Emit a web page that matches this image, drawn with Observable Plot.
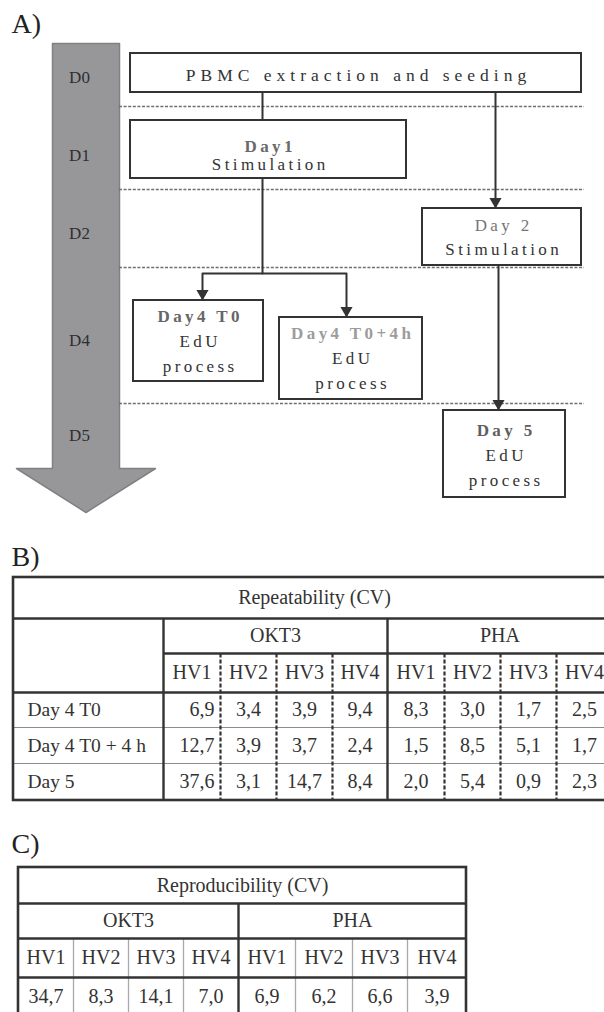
<!DOCTYPE html>
<html><head><meta charset="utf-8">
<script src="https://cdn.jsdelivr.net/npm/d3@7"></script>
<script src="https://cdn.jsdelivr.net/npm/@observablehq/plot@0.6"></script>
<style>
html,body{margin:0;padding:0;background:#fff;overflow:hidden;}
#chart svg{display:block;}
</style></head><body><div id="chart"></div>
<script>
// ---------------- DATA ----------------
const panelLabels = ["A)", "B)", "C)"];
const days = ["D0", "D1", "D2", "D4", "D5"];
const flowSteps = [
  ["PBMC extraction and seeding"],
  ["Day1", "Stimulation"],
  ["Day 2", "Stimulation"],
  ["Day4 T0", "EdU", "process"],
  ["Day4 T0+4h", "EdU", "process"],
  ["Day 5", "EdU", "process"]
];
const flowLinks = [[0, 1], [0, 2], [1, 3], [1, 4], [2, 5]];
const repeatTitle = "Repeatability (CV)";
const reproTitle = "Reproducibility (CV)";
const stimuli = ["OKT3", "PHA"];
const donors = ["HV1", "HV2", "HV3", "HV4"];
const repeatRows = ["Day 4 T0", "Day 4 T0 + 4 h", "Day 5"];
const repeatOKT3 = [[6.9, 3.4, 3.9, 9.4], [12.7, 3.9, 3.7, 2.4], [37.6, 3.1, 14.7, 8.4]];
const repeatPHA = [[8.3, 3.0, 1.7, 2.5], [1.5, 8.5, 5.1, 1.7], [2.0, 5.4, 0.9, 2.3]];
const reproOKT3 = [34.7, 8.3, 14.1, 7.0];
const reproPHA = [6.9, 6.2, 6.6, 3.9];

// ---------------- LAYOUT ----------------
const L = {
  panelX: 11, panelY: [24, 557, 844],
  bigArrow: {x1: 52, x2: 119, top: 43, neck: 468, w1: 16, w2: 155, tip: 512},
  dayX: 79, dayY: [77, 155, 233, 340, 435],
  dividerY: [106, 189, 267, 403], dividerX: [119, 584],
  boxes: [
    {x1: 130, x2: 581, y1: 53, y2: 92, lineY: [75]},
    {x1: 130, x2: 406, y1: 120, y2: 178, lineY: [146, 164]},
    {x1: 422, x2: 581, y1: 208, y2: 265, lineY: [225, 249]},
    {x1: 133, x2: 263, y1: 300, y2: 381, lineY: [316, 341, 366]},
    {x1: 279, x2: 422, y1: 317, y2: 399, lineY: [333, 358, 383]},
    {x1: 443, x2: 565, y1: 410, y2: 497, lineY: [430, 455, 480]}
  ],
  titleStyle: [null, "#6a6a6a", "#767676", "#666666", "#9c9c9c", "#5e5e5e"],
  titleBold: [false, true, false, true, true, true],
  connectors: [
    {pts: [[262, 92], [262, 120]], head: false},
    {pts: [[495, 92], [495, 208]], head: true},
    {pts: [[262, 178], [262, 273], [202, 273], [202, 300]], head: true},
    {pts: [[262, 273], [346, 273], [346, 317]], head: true},
    {pts: [[498, 265], [498, 410]], head: true}
  ],
  B: {cols: [13, 163, 220, 276, 332, 387, 444, 500, 556, 612], rows: [577, 618, 653, 692, 727, 763, 800], labelX: 27, titleX: 314},
  C: {cols: [18, 73, 128, 183, 238, 295, 352, 407, 466], rows: [867, 903, 938, 977, 1030], titleX: 242}
};

const FLOW_FONT = "Liberation Serif, serif";
const SERIF = "'Liberation Serif', 'Times New Roman', Times, serif";
const INK = "#333";
const fmt = v => v.toFixed(1).replace(".", ",");
const mid = (a, b) => (a + b) / 2;

// ---------------- PANEL A data ----------------
const ba = L.bigArrow;
const arrowPoly = [[ba.x1, ba.top], [ba.x2, ba.top], [ba.x2, ba.neck], [ba.w2, ba.neck], [mid(ba.x1, ba.x2), ba.tip], [ba.w1, ba.neck], [ba.x1, ba.neck], [ba.x1, ba.top]];
const dayLabels = days.map((d, i) => ({text: d, x: L.dayX, y: L.dayY[i]}));
const dividers = L.dividerY.map(y => ({y, x1: L.dividerX[0], x2: L.dividerX[1]}));
const boxes = flowSteps.map((s, i) => ({...L.boxes[i], step: i}));
const flowText = [];
flowSteps.forEach((lines, i) => {
  const b = L.boxes[i];
  lines.forEach((t, j) => flowText.push({
    text: t, x: mid(b.x1, b.x2), y: b.lineY[j],
    kind: i === 0 ? "pbmc" : (j === 0 ? (L.titleBold[i] ? "titleBold" : "titleNormal") : "body"),
    color: (i > 0 && j === 0) ? L.titleStyle[i] : INK
  }));
});
const connLines = [];
const heads = [];
flowLinks.forEach((lk, k) => {
  const c = L.connectors[k];
  c.pts.forEach(([x, y]) => connLines.push({x, y, k}));
  if (c.head) {
    const [x, y] = c.pts[c.pts.length - 1];
    heads.push({x, y: y - 7});
  }
});

// ---------------- PANEL B data ----------------
const B = L.B;
const bCellX = i => mid(B.cols[i], B.cols[i + 1]);
const bRowY = i => mid(B.rows[i], B.rows[i + 1]);
const bText = [];
bText.push({text: repeatTitle, x: B.titleX, y: bRowY(0)});
stimuli.forEach((s, g) => bText.push({text: s, x: mid(B.cols[1 + 4 * g], B.cols[5 + 4 * g]), y: bRowY(1)}));
stimuli.forEach((s, g) => donors.forEach((d, j) => bText.push({text: d, x: bCellX(1 + 4 * g + j), y: bRowY(2)})));
const bValuesCenter = [];
const bValuesRight = [];
repeatRows.forEach((r, i) => {
  [repeatOKT3, repeatPHA].forEach((m, g) => m[i].forEach((v, j) => {
    const col = 1 + 4 * g + j;
    if (g === 0 && j === 0) bValuesRight.push({text: fmt(v), x: B.cols[col + 1] - 6, y: bRowY(3 + i)});
    else bValuesCenter.push({text: fmt(v), x: bCellX(col), y: bRowY(3 + i)});
  }));
});
const bRowLabels = repeatRows.map((r, i) => ({text: r, x: B.labelX, y: bRowY(3 + i)}));
const bThick = [
  {x1: B.cols[0], x2: B.cols[9], y1: B.rows[1], y2: B.rows[1]},
  {x1: B.cols[1], x2: B.cols[9], y1: B.rows[2], y2: B.rows[2]},
  {x1: B.cols[0], x2: B.cols[9], y1: B.rows[3], y2: B.rows[3]},
  {x1: B.cols[1], x2: B.cols[1], y1: B.rows[1], y2: B.rows[6]},
  {x1: B.cols[5], x2: B.cols[5], y1: B.rows[1], y2: B.rows[6]}
];
const bThin = [4, 5].map(r => ({x1: B.cols[0], x2: B.cols[9], y1: B.rows[r], y2: B.rows[r]}));
const bDashed = [2, 3, 4, 6, 7, 8].map(c => ({x1: B.cols[c], x2: B.cols[c], y1: B.rows[2], y2: B.rows[6]}));

// ---------------- PANEL C data ----------------
const C = L.C;
const cCellX = i => mid(C.cols[i], C.cols[i + 1]);
const cRowY = i => mid(C.rows[i], C.rows[i + 1]);
const cText = [];
cText.push({text: reproTitle, x: C.titleX, y: cRowY(0)});
stimuli.forEach((s, g) => cText.push({text: s, x: mid(C.cols[4 * g], C.cols[4 + 4 * g]), y: cRowY(1)}));
stimuli.forEach((s, g) => donors.forEach((d, j) => cText.push({text: d, x: cCellX(4 * g + j), y: cRowY(2)})));
[reproOKT3, reproPHA].forEach((arr, g) => arr.forEach((v, j) => cText.push({text: fmt(v), x: cCellX(4 * g + j), y: 996})));
const cThick = [
  {x1: C.cols[0], x2: C.cols[8], y1: C.rows[1], y2: C.rows[1]},
  {x1: C.cols[0], x2: C.cols[8], y1: C.rows[2], y2: C.rows[2]},
  {x1: C.cols[0], x2: C.cols[8], y1: C.rows[3], y2: C.rows[3]},
  {x1: C.cols[4], x2: C.cols[4], y1: C.rows[1], y2: C.rows[4]}
];
const cDotted = [1, 2, 3, 5, 6, 7].map(c => ({x1: C.cols[c], x2: C.cols[c], y1: C.rows[2], y2: C.rows[4]}));

const panelText = panelLabels.map((t, i) => ({text: t, x: L.panelX, y: L.panelY[i]}));

// ---------------- PLOT ----------------
const seg = (data, o) => Plot.link(data, {x1: "x1", y1: "y1", x2: "x2", y2: "y2", ...o});
const txt = (data, o) => Plot.text(data, {x: "x", y: "y", text: "text", ...o});
const TFS = 20;

const plot = Plot.plot({
  width: 604, height: 1012,
  margin: 0, marginTop: 0, marginRight: 0, marginBottom: 0, marginLeft: 0,
  x: {type: "identity", axis: null},
  y: {type: "identity", axis: null},
  color: {type: "identity"},
  style: {background: "#fff"},
  marks: [
    // panel labels
    txt(panelText, {textAnchor: "start", fontSize: 28, fontFamily: SERIF, fill: "#222"}),
    // panel A
    Plot.line(arrowPoly, {x: d => d[0], y: d => d[1], fill: "#97979a", stroke: "#818184", strokeWidth: 1.5}),
    txt(dayLabels, {fontSize: 17, fontFamily: SERIF, fill: "#2e2e2e"}),
    Plot.ruleY(dividers, {y: "y", x1: "x1", x2: "x2", stroke: "#6e6e6e", strokeWidth: 1.3, strokeDasharray: "3,1.6"}),
    Plot.line(connLines, {x: "x", y: "y", z: "k", stroke: INK, strokeWidth: 2}),
    Plot.dot(heads, {x: "x", y: "y", symbol: "triangle", rotate: 180, r: 4.5, fill: INK, stroke: "none"}),
    Plot.rect(boxes, {x1: "x1", x2: "x2", y1: "y1", y2: "y2", fill: "#fff", stroke: INK, strokeWidth: 2}),
    txt(flowText.filter(d => d.kind === "pbmc"), {fontSize: 17.5, fontFamily: FLOW_FONT, fill: "color", dx: 2.5}),
    txt(flowText.filter(d => d.kind === "titleBold"), {fontSize: 17, fontWeight: "bold", fontFamily: FLOW_FONT, fill: "color", dx: 1.7}),
    txt(flowText.filter(d => d.kind === "titleNormal"), {fontSize: 17, fontFamily: FLOW_FONT, fill: "color", dx: 1.7}),
    txt(flowText.filter(d => d.kind === "body"), {fontSize: 17, fontFamily: FLOW_FONT, fill: "color", dx: 1.7}),
    // panel B
    seg(bThin, {stroke: "#8c8c8c", strokeWidth: 1.2}),
    seg(bDashed, {stroke: INK, strokeWidth: 2.2, strokeDasharray: "4,2"}),
    seg(bThick, {stroke: INK, strokeWidth: 2.4}),
    Plot.rect([{x1: B.cols[0], x2: B.cols[9], y1: B.rows[0], y2: B.rows[6]}], {x1: "x1", x2: "x2", y1: "y1", y2: "y2", fill: "none", stroke: INK, strokeWidth: 2.6}),
    txt(bText, {fontSize: TFS, fontFamily: SERIF, fill: INK}),
    txt(bValuesCenter, {fontSize: TFS, fontFamily: SERIF, fill: INK}),
    txt(bValuesRight, {fontSize: TFS, fontFamily: SERIF, fill: INK, textAnchor: "end"}),
    txt(bRowLabels, {fontSize: 19.5, fontFamily: SERIF, fill: INK, textAnchor: "start"}),
    // panel C
    seg(cDotted, {stroke: "#555", strokeWidth: 1.3, strokeDasharray: "1,1"}),
    seg(cThick, {stroke: INK, strokeWidth: 2.4}),
    Plot.rect([{x1: C.cols[0], x2: C.cols[8], y1: C.rows[0], y2: C.rows[4]}], {x1: "x1", x2: "x2", y1: "y1", y2: "y2", fill: "none", stroke: INK, strokeWidth: 2.6}),
    txt(cText, {fontSize: TFS, fontFamily: SERIF, fill: INK})
  ]
});

// letter spacing for the flowchart box text
plot.querySelectorAll("g").forEach(g => {
  if (g.getAttribute("font-family") === FLOW_FONT) {
    g.querySelectorAll("text").forEach(t => {
      t.setAttribute("letter-spacing", t.textContent.startsWith("PBMC") ? 5 : 3.4);
    });
  }
});
document.getElementById("chart").appendChild(plot);
</script></body></html>
